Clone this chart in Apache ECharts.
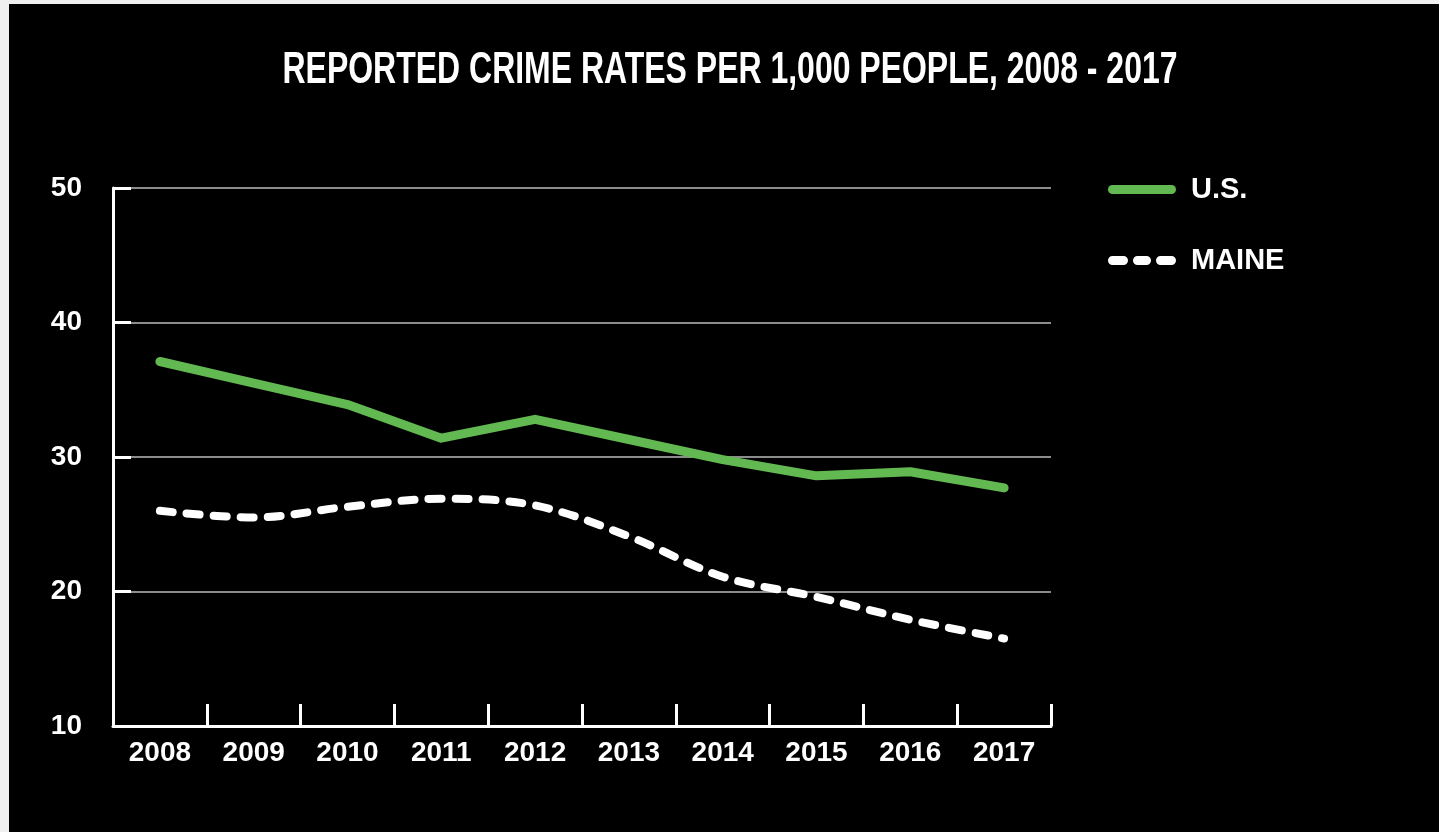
<!DOCTYPE html>
<html>
<head>
<meta charset="utf-8">
<script src="https://cdn.jsdelivr.net/npm/echarts@6/dist/echarts.min.js"></script>
<style>
  html, body { margin: 0; padding: 0; background: #f0f0f0; width: 1439px; height: 832px; overflow: hidden; }
  #chart { position: absolute; left: 9px; top: 4px; width: 1430px; height: 828px; background: #000; }
</style>
</head>
<body>
<div id="chart"></div>
<script>
const titleText = 'REPORTED CRIME RATES PER 1,000 PEOPLE, 2008 - 2017';
const years = ['2008', '2009', '2010', '2011', '2012', '2013', '2014', '2015', '2016', '2017'];
const usRates = [37.1, 35.5, 33.9, 31.4, 32.8, 31.3, 29.8, 28.6, 28.9, 27.7];
const maineRates = [26.0, 25.5, 26.3, 26.9, 26.4, 24.1, 21.1, 19.6, 17.9, 16.5];
const seriesNames = ['U.S.', 'MAINE'];

const FONT = '"Liberation Sans", Arial, sans-serif';
const GREEN = '#63b951';

// measure title to squeeze it into a condensed look
const TITLE_SIZE = 44;
const TITLE_WIDTH = 895;
const cv = document.createElement('canvas').getContext('2d');
cv.font = 'bold ' + TITLE_SIZE + 'px ' + FONT;
const titleScale = TITLE_WIDTH / cv.measureText(titleText).width;

const solidIcon = 'path://M4.5,0 L63.5,0 A4.5,4.5 0 0 1 63.5,9 L4.5,9 A4.5,4.5 0 0 1 4.5,0 Z';
const dashIcon = 'path://M4.5,0 L15.5,0 A4.5,4.5 0 0 1 15.5,9 L4.5,9 A4.5,4.5 0 0 1 4.5,0 Z ' +
  'M29.5,0 L38.5,0 A4.5,4.5 0 0 1 38.5,9 L29.5,9 A4.5,4.5 0 0 1 29.5,0 Z ' +
  'M52.5,0 L63.5,0 A4.5,4.5 0 0 1 63.5,9 L52.5,9 A4.5,4.5 0 0 1 52.5,0 Z';

const chart = echarts.init(document.getElementById('chart'));
chart.setOption({
  backgroundColor: '#000',
  animation: false,
  graphic: [{
    type: 'text',
    x: 721,
    y: 67,
    scaleX: titleScale,
    originX: 0,
    style: {
      text: titleText,
      fill: '#fff',
      font: 'bold ' + TITLE_SIZE + 'px ' + FONT,
      textAlign: 'center',
      textVerticalAlign: 'middle'
    }
  }],
  legend: {
    orient: 'vertical',
    left: 1094,
    top: 166,
    itemWidth: 68,
    itemHeight: 9,
    itemGap: 42,
    textStyle: { color: '#fff', fontFamily: FONT, fontWeight: 'bold', fontSize: 29, padding: [0, 0, 0, 10] },
    data: [
      { name: seriesNames[0], icon: solidIcon, itemStyle: { color: GREEN, borderWidth: 0 } },
      { name: seriesNames[1], icon: dashIcon, itemStyle: { color: '#fff', borderWidth: 0 } }
    ]
  },
  grid: { left: 104, right: 388, top: 184, bottom: 106 },
  xAxis: {
    type: 'category',
    data: years,
    boundaryGap: true,
    axisLine: { lineStyle: { color: '#fff', width: 3 } },
    axisTick: { show: true, inside: true, length: 22, interval: 0, lineStyle: { color: '#fff', width: 3 } },
    axisLabel: { color: '#fff', fontFamily: FONT, fontWeight: 'bold', fontSize: 28, margin: 13, interval: 0 },
    splitLine: { show: false }
  },
  yAxis: {
    type: 'value',
    min: 10,
    max: 50,
    interval: 10,
    axisLine: { show: true, lineStyle: { color: '#fff', width: 3 } },
    axisTick: { show: true, inside: true, length: 18, lineStyle: { color: '#fff', width: 3 } },
    axisLabel: { color: '#fff', fontFamily: FONT, fontWeight: 'bold', fontSize: 28, margin: 31 },
    splitLine: { show: true, lineStyle: { color: '#8c8c8c', width: 2 } }
  },
  series: [
    {
      name: seriesNames[0],
      type: 'line',
      data: usRates,
      symbol: 'none',
      lineStyle: { color: GREEN, width: 9, cap: 'round', join: 'round' },
      itemStyle: { color: GREEN }
    },
    {
      name: seriesNames[1],
      type: 'line',
      data: maineRates,
      symbol: 'none',
      smooth: 0.35,
      lineStyle: { color: '#fff', width: 8, type: [13, 14], cap: 'round' },
      itemStyle: { color: '#fff' }
    }
  ]
});
</script>
</body>
</html>
